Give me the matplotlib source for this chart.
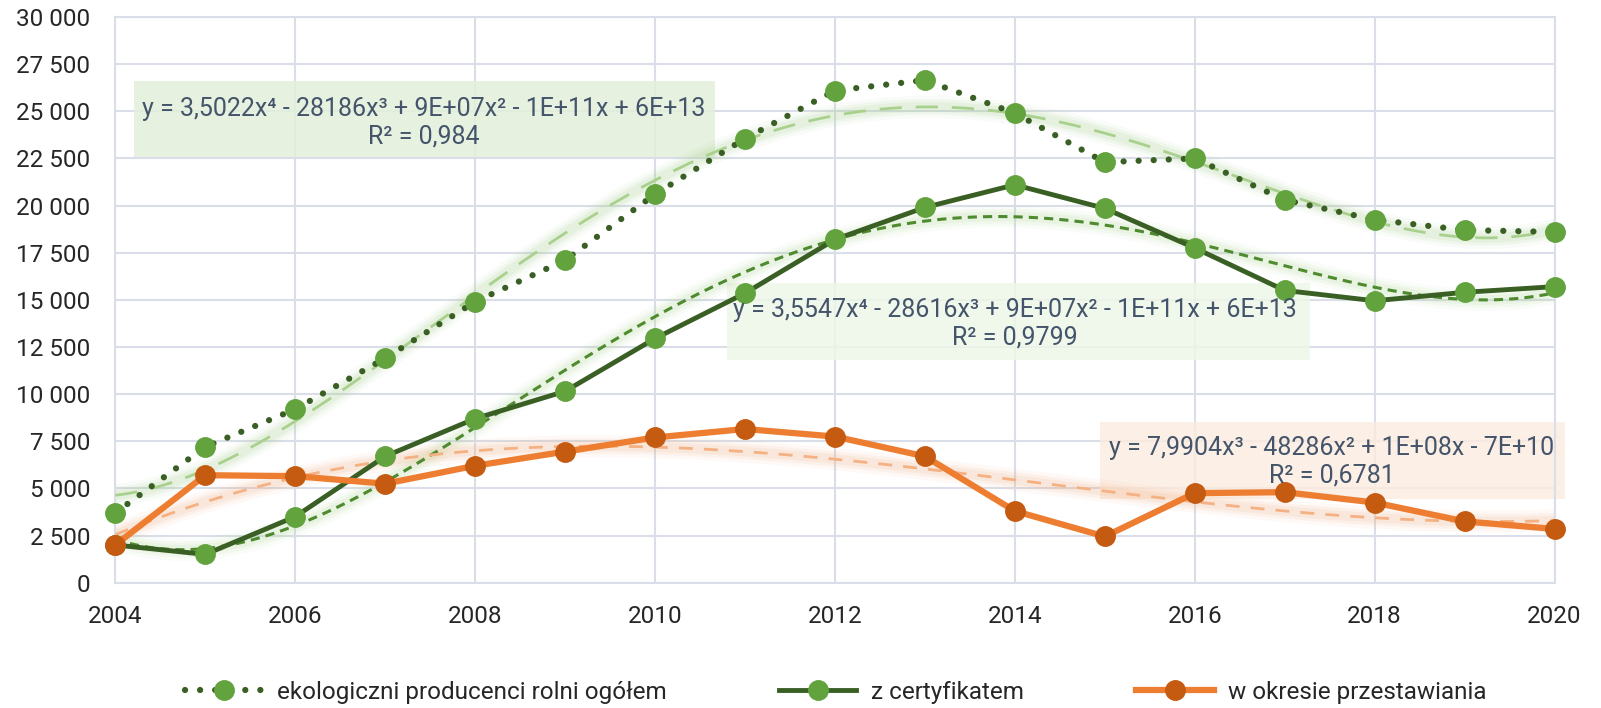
import numpy as np
import matplotlib.pyplot as plt
from matplotlib.ticker import FuncFormatter, MultipleLocator
from matplotlib.lines import Line2D
from matplotlib.patches import Rectangle

plt.rcParams['font.family'] = ['Roboto', 'DejaVu Sans']

# data
years = np.arange(2004, 2021)
ogolem = [3700, 7200, 9200, 11900, 14900, 17100, 20600, 23550, 26100, 26650,
          24900, 22300, 22500, 20300, 19250, 18700, 18600]
certyfikat = [2000, 1500, 3500, 6700, 8700, 10150, 12950, 15350, 18200, 19900,
              21100, 19850, 17750, 15500, 14950, 15400, 15700]
przestawianie = [2000, 5700, 5650, 5250, 6200, 6950, 7700, 8150, 7750, 6700,
                 3800, 2450, 4750, 4800, 4250, 3250, 2850]

eq_ogolem = "y = 3,5022x⁴ - 28186x³ + 9E+07x² - 1E+11x + 6E+13\nR² = 0,984"
eq_cert = "y = 3,5547x⁴ - 28616x³ + 9E+07x² - 1E+11x + 6E+13\nR² = 0,9799"
eq_przest = "y = 7,9904x³ - 48286x² + 1E+08x - 7E+10\nR² = 0,6781"

labels = ["ekologiczni producenci rolni ogółem", "z certyfikatem", "w okresie przestawiania"]

dark_green = "#3A5F24"
mid_green = "#62A33E"
light_green = "#A9D18E"
orange = "#ED7D31"
dark_orange = "#C55A11"
light_orange = "#F4B183"
text_col = "#44546A"

fig = plt.figure(figsize=(16.01, 7.08), dpi=100)
ax = fig.add_axes([0.072, 0.177, 0.899, 0.799])

xs = np.linspace(2004, 2020, 300)


def trend(y, deg):
    p = np.polyfit(years - 2012, y, deg)
    return np.polyval(p, xs - 2012)


def glow(curve, color):
    for lw, a in [(16, 0.07), (11, 0.10), (7, 0.14)]:
        ax.plot(xs, curve, color=color, lw=lw, alpha=a, solid_capstyle='round', zorder=2)


# trend lines with glow
t1 = trend(ogolem, 4)
t2 = trend(certyfikat, 4)
t3 = trend(przestawianie, 3)
glow(t1, light_green)
glow(t2, "#B5D99C")
glow(t3, light_orange)
ax.plot(xs, t1, color=light_green, lw=2, ls=(0, (8, 5)), zorder=3)
ax.plot(xs, t2, color="#4E8A2E", lw=2.2, ls=(0, (3, 2)), zorder=3)
ax.plot(xs, t3, color=light_orange, lw=2, ls=(0, (5, 4)), zorder=3)

# series
ax.plot(years, ogolem, color=dark_green, lw=4.5, ls=(0, (0.01, 2.4)),
        dash_capstyle='round', zorder=4)
ax.plot(years, ogolem, ls='none', marker='o', ms=14, mfc=mid_green, mec=mid_green,
        zorder=5, clip_on=False)
ax.plot(years, certyfikat, color=dark_green, lw=3.5, marker='o', ms=14,
        mfc=mid_green, mec=mid_green, zorder=5, clip_on=False)
ax.plot(years, przestawianie, color=orange, lw=4.5, marker='o', ms=14,
        mfc=dark_orange, mec=dark_orange, zorder=6, clip_on=False)

# equation boxes: x, y, width, height, colour, alpha, text, text x, text y
boxes = [(2004.21, 22550, 6.46, 4050, "#E2EFDA", 0.85, eq_ogolem, 2007.43, 24400),
         (2010.8, 11820, 6.48, 4080, "#EEF6E8", 0.85, eq_cert, 2014.0, 13750),
         (2014.95, 4450, 5.17, 4080, "#FCEBDF", 0.8, eq_przest, 2017.52, 6400)]
for bx, by, bw, bh, fc, a, txt, tx, ty in boxes:
    ax.add_patch(Rectangle((bx, by), bw, bh, facecolor=fc, alpha=a, edgecolor='none',
                           zorder=1.5, clip_on=False))
    ax.text(tx, ty, txt, ha='center', va='center', color=text_col, fontsize=18,
            linespacing=1.2, zorder=7)

ax.set_xlim(2004, 2020)
ax.set_ylim(0, 30000)
ax.xaxis.set_major_locator(MultipleLocator(2))
ax.yaxis.set_major_locator(MultipleLocator(2500))
ax.yaxis.set_major_formatter(FuncFormatter(lambda v, p: f"{int(v):,}".replace(",", " ")))
ax.grid(True, color="#D9DEE8", lw=1.5)
ax.set_axisbelow(True)
for s in ax.spines.values():
    s.set_color("#D9DEE8")
    s.set_linewidth(1.5)
ax.tick_params(length=0, labelsize=17.5, colors="#262626")
ax.tick_params(axis='y', pad=18)
ax.tick_params(axis='x', pad=16)

handles = [
    Line2D([], [], color=dark_green, lw=4.5, ls=(0, (0.01, 2.4)), dash_capstyle='round',
           marker='o', ms=14, mfc=mid_green, mec=mid_green),
    Line2D([], [], color=dark_green, lw=3.5, marker='o', ms=14, mfc=mid_green, mec=mid_green),
    Line2D([], [], color=orange, lw=4.5, marker='o', ms=14, mfc=dark_orange, mec=dark_orange),
]
fig.legend(handles, labels, loc='lower center', bbox_to_anchor=(0.522, -0.025), ncol=3,
           frameon=False, fontsize=17.5, handlelength=3.2, handletextpad=0.6,
           columnspacing=4.6, numpoints=1, labelcolor="#262626")

fig.savefig("out.png", dpi=100)
